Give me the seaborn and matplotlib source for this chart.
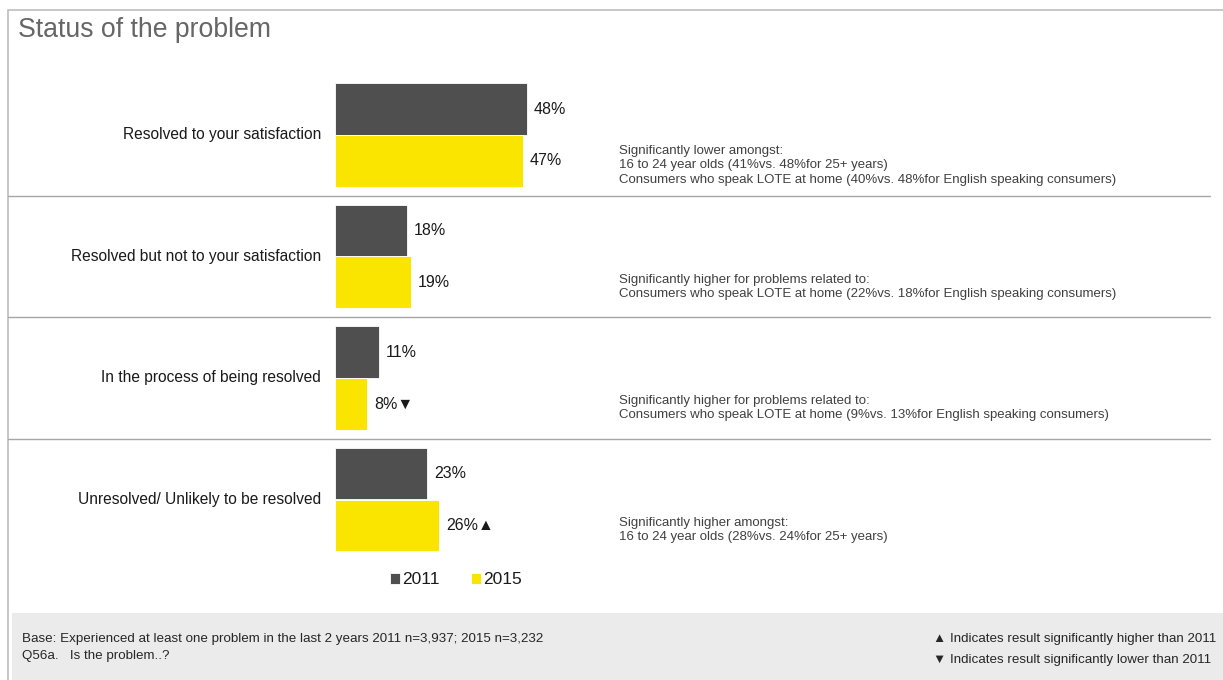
import numpy as np
import pandas as pd
import seaborn as sns
import matplotlib.pyplot as plt
from matplotlib.patches import Rectangle

categories = ['Resolved to your satisfaction', 'Resolved but not to your satisfaction',
              'In the process of being resolved', 'Unresolved/ Unlikely to be resolved']
pct_2011 = [48, 18, 11, 23]
pct_2015 = [47, 19, 8, 26]
flags_2015 = ['', '', '▼', '▲']
notes = [
    ['Significantly lower amongst:',
     '16 to 24 year olds (41%vs. 48%for 25+ years)',
     'Consumers who speak LOTE at home (40%vs. 48%for English speaking consumers)'],
    ['Significantly higher for problems related to:',
     'Consumers who speak LOTE at home (22%vs. 18%for English speaking consumers)'],
    ['Significantly higher for problems related to:',
     'Consumers who speak LOTE at home (9%vs. 13%for English speaking consumers)'],
    ['Significantly higher amongst:',
     '16 to 24 year olds (28%vs. 24%for 25+ years)'],
]
base_text = 'Base: Experienced at least one problem in the last 2 years 2011 n=3,937; 2015 n=3,232'
question_text = 'Q56a.   Is the problem..?'

df = pd.DataFrame({
    'status': categories * 2,
    'pct': pct_2011 + pct_2015,
    'year': ['2011'] * 4 + ['2015'] * 4,
})

sns.set_style('white')
plt.rcParams['font.family'] = ['Liberation Sans', 'DejaVu Sans']

W, H = 1223, 680
fig = plt.figure(figsize=(W / 100, H / 100), dpi=100)

# outer frame and grey footer band
fig.patches.append(Rectangle((8 / W, -0.01), 1.0, (H - 10) / H + 0.01, transform=fig.transFigure,
                             facecolor='white', edgecolor='#bdbdbd', linewidth=1.2, zorder=-2))
fig.patches.append(Rectangle((12 / W, 0), 1.0, (H - 613) / H, transform=fig.transFigure,
                             facecolor='#ebebeb', edgecolor='none', zorder=-1))

ax = fig.add_axes([0, 0, 1, 1])
ax.set_zorder(5)
ax.patch.set_alpha(0)
sns.barplot(data=df, y='status', x='pct', hue='year', orient='h', saturation=1,
            palette={'2011': '#4f4f4f', '2015': '#fae500'}, width=0.855,
            edgecolor='white', linewidth=0.6, ax=ax)

# map axes so that bars start at pixel 335 with 4 px per percent
px = 4.0
ax.set_xlim(-335 / px, (W - 335) / px)
pitch = 121.5
ax.set_ylim((H - 135) / pitch, -135 / pitch)
ax.set_axis_off()

lab_2011 = [f'{v}%' for v in pct_2011]
lab_2015 = [f'{v}%{f}' for v, f in zip(pct_2015, flags_2015)]
ax.bar_label(ax.containers[0], labels=lab_2011, padding=5, fontsize=11.5, color='#1a1a1a')
ax.bar_label(ax.containers[1], labels=lab_2015, padding=5, fontsize=11.5, color='#1a1a1a')

for i, cat in enumerate(categories):
    ax.text(-14 / px, i, cat, ha='right', va='center', fontsize=11.2, color='#1a1a1a')
    ax.text((619 - 335) / px, i + 0.25, '\n'.join(notes[i]), ha='left', va='center',
            fontsize=9.5, color='#404040', linespacing=1.25)
    if i < len(categories) - 1:
        ax.axhline(i + 0.5, xmin=8 / W, xmax=1210 / W, color='#a6a6a6', linewidth=1)

leg = ax.legend(loc='center', bbox_to_anchor=(456 / W, 1 - 580 / H), ncol=2, frameon=False,
                handlelength=0.55, handleheight=0.55, handletextpad=0.12, columnspacing=1.85,
                fontsize=12.5)
for t in leg.get_texts():
    t.set_color('#1a1a1a')

fig.text(18 / W, 1 - 30 / H, 'Status of the problem', fontsize=19.2, color='#666666',
         ha='left', va='center')
fig.text(22 / W, 1 - 639 / H, base_text, fontsize=9.6, color='#262626', ha='left', va='center')
fig.text(22 / W, 1 - 656 / H, question_text, fontsize=9.6, color='#262626', ha='left', va='center')
fig.text(933 / W, 1 - 639 / H, '▲ Indicates result significantly higher than 2011',
         fontsize=9.6, color='#262626', ha='left', va='center')
fig.text(933 / W, 1 - 660 / H, '▼ Indicates result significantly lower than 2011',
         fontsize=9.6, color='#262626', ha='left', va='center')

fig.savefig('out.png', dpi=100)
